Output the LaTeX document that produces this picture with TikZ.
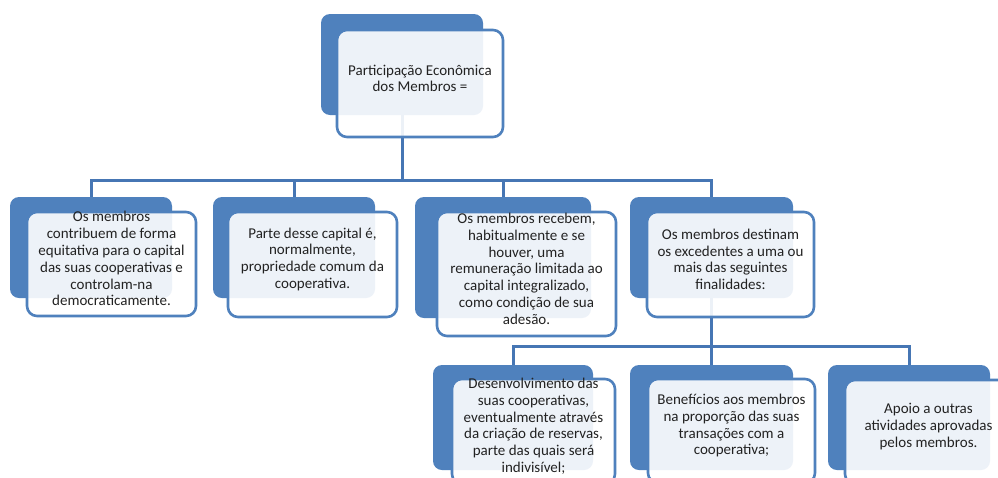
\documentclass[tikz,border=0pt]{standalone}
\usepackage{fontspec}
\setmainfont{Carlito}
\usetikzlibrary{fit}
\definecolor{bluefill}{HTML}{4F81BD}
\definecolor{blueline}{HTML}{4676B4}
\definecolor{txt}{HTML}{222222}
\begin{document}
\begin{tikzpicture}[x=1pt,y=-1pt,
  backbox/.style={fill=bluefill, draw=none, rounded corners=9pt, inner sep=0pt},
  frontbox/.style={draw=bluefill, line width=2.6pt, fill=white, fill opacity=0.9, text opacity=1,
     rounded corners=10pt, inner sep=0pt, align=center, text=txt,
     font=\fontsize{15}{16.8}\selectfont},
  conn/.style={draw=blueline, line width=3pt}]
\useasboundingbox (0,0) rectangle (998,477);
\clip (0,0) rectangle (998,477);
\fill[white] (0,0) rectangle (998,477);

\coordinate (bar1) at (0,180);
\coordinate (bar2) at (0,346);

% back boxes
\node[backbox, fit={(321,14) (483,115)}] (b0) {};
\node[backbox, fit={(10,197) (172,298)}] (b1) {};
\node[backbox, fit={(213,197) (375,298)}] (b2) {};
\node[backbox, fit={(415,197) (591,318)}] (b3) {};
\node[backbox, fit={(630,197) (793,298)}] (b4) {};
\node[backbox, fit={(433,365) (593,470)}] (b5) {};
\node[backbox, fit={(630,365) (793,470)}] (b6) {};
\node[backbox, fit={(828,365) (990,470)}] (b7) {};

% connectors
\draw[conn] (b0.south) -- (b0.south |- bar1) -| (b1.north);
\draw[conn] (b0.south |- bar1) -| (b2.north);
\draw[conn] (b0.south |- bar1) -| (b3.north);
\draw[conn] (b0.south |- bar1) -| (b4.north);
\draw[conn] (b4.south) -- (b4.south |- bar2) -| (b5.north);
\draw[conn] (b4.south |- bar2) -| (b6.north);
\draw[conn] (b4.south |- bar2) -| (b7.north);

% front boxes
\node[frontbox, fit={(337,30) (503,137)}] (f0) {Participação Econômica\\dos Membros =};
\node[frontbox, fit={(27,212) (196,316)}] (f1) {Os membros\\contribuem de forma\\equitativa para o capital\\das suas cooperativas e\\controlam-na\\democraticamente.};
\node[frontbox, fit={(228,212) (397,317)}] (f2) {Parte desse capital é,\\normalmente,\\propriedade comum da\\cooperativa.};
\node[frontbox, fit={(437,212) (616,336)}] (f3) {Os membros recebem,\\habitualmente e se\\houver, uma\\remuneração limitada ao\\capital integralizado,\\como condição de sua\\adesão.};
\node[frontbox, fit={(647,212) (814,317)}] (f4) {Os membros destinam\\os excedentes a uma ou\\mais das seguintes\\finalidades:};
\node[frontbox, fit={(452,379) (615,484)}] (f5) {Desenvolvimento das\\suas cooperativas,\\eventualmente através\\da criação de reservas,\\parte das quais será\\indivisível;};
\node[frontbox, fit={(648,379) (815,483)}] (f6) {Benefícios aos membros\\na proporção das suas\\transações com a\\cooperativa;};
\node[frontbox, fit={(845,380) (1012,484)}] (f7) {Apoio a outras\\atividades aprovadas\\pelos membros.};
\end{tikzpicture}
\end{document}
